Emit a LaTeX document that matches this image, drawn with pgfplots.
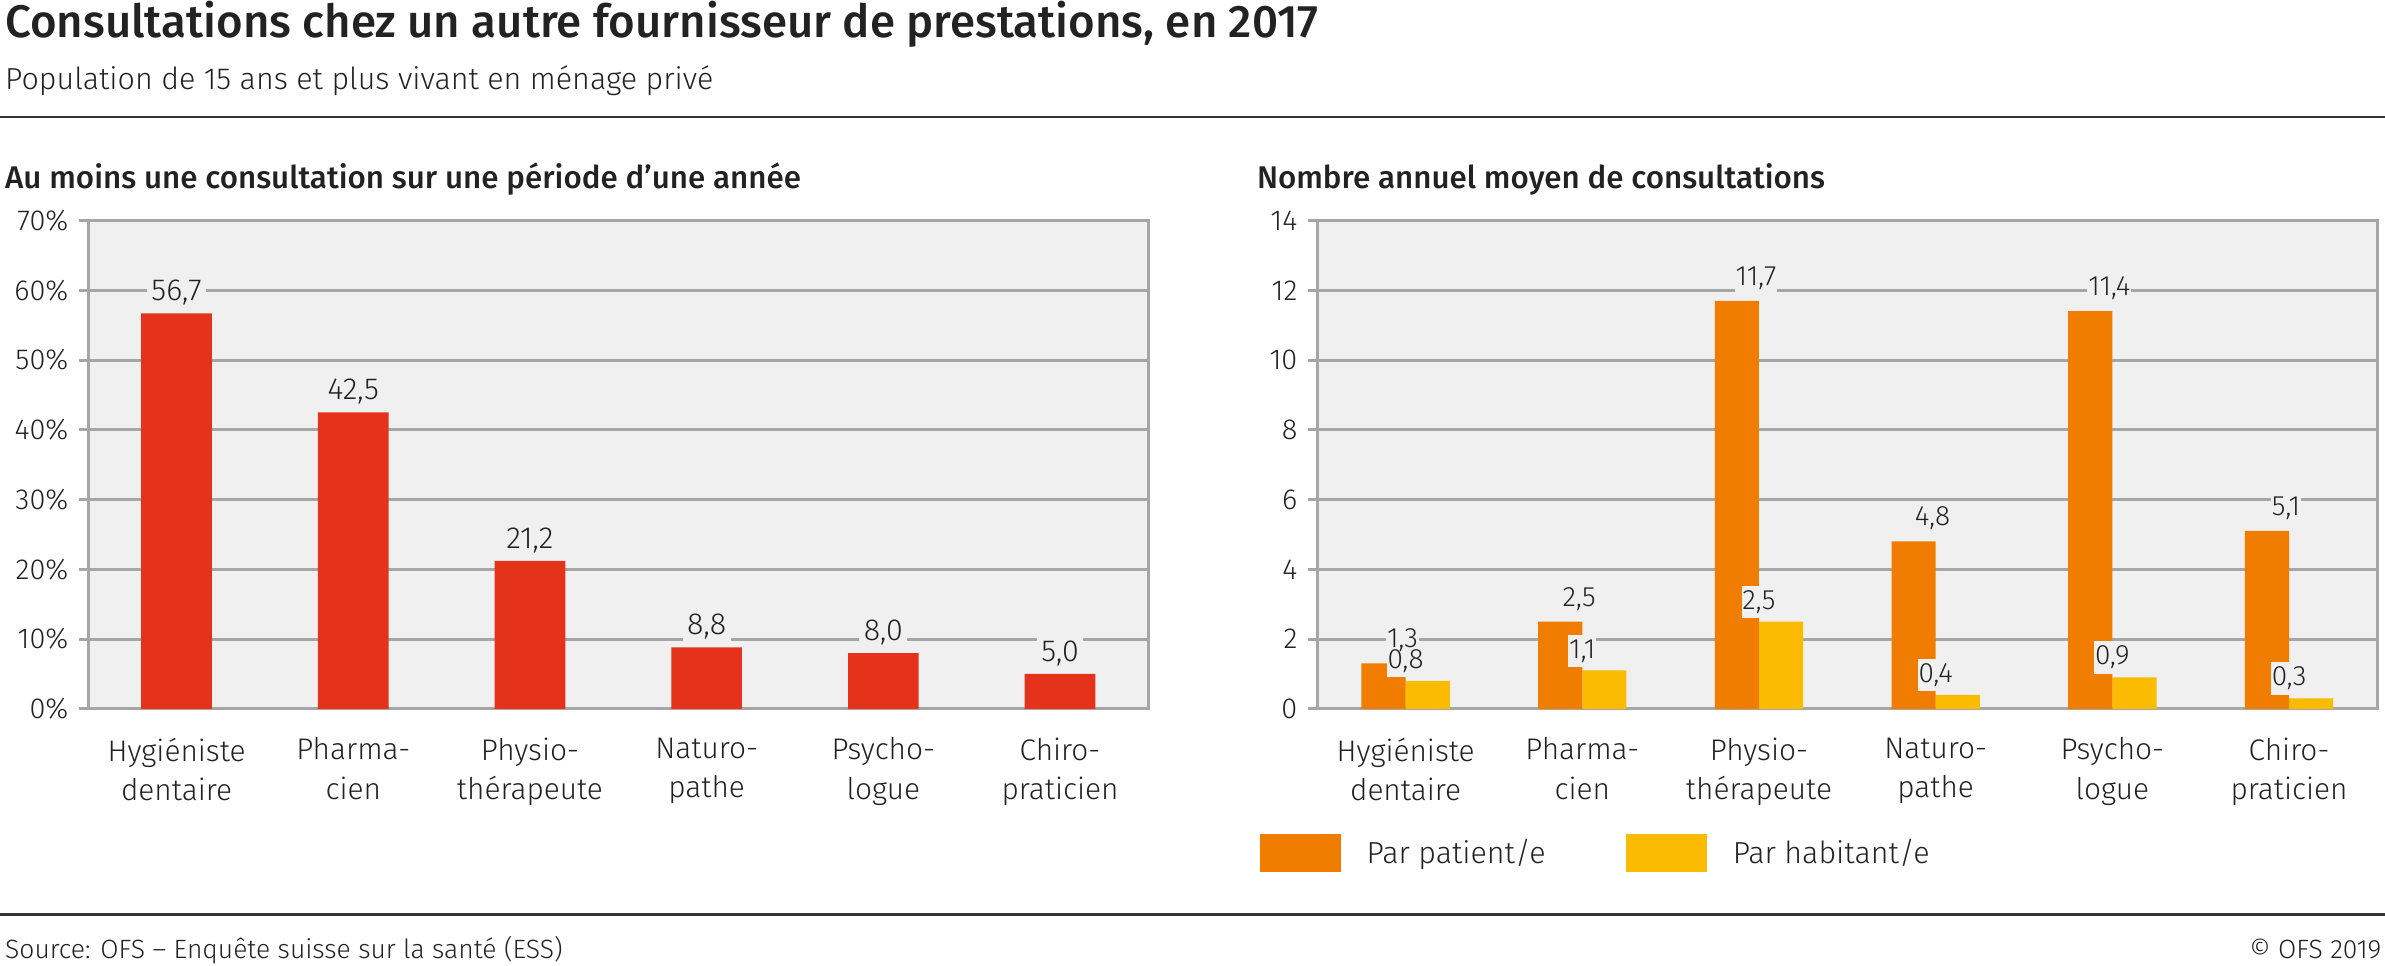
\documentclass[border=0pt]{standalone}
\usepackage{fontspec}
\setmainfont{Fira Sans Light}[BoldFont={Fira Sans Medium}]
\usepackage{pgfplots}
\usepackage{pgfplotstable}
\pgfplotsset{compat=1.18}

\definecolor{txt}{HTML}{222222}
\definecolor{rule}{HTML}{333333}
\definecolor{bgplot}{HTML}{F0F0F0}
\definecolor{gridc}{HTML}{A6A6A6}
\definecolor{rouge}{HTML}{E5321A}
\definecolor{orangef}{HTML}{F07D00}
\definecolor{jaune}{HTML}{FBBB00}

% au moins une consultation sur une annee (%)
\pgfplotstableread{
x  part
0  56.7
1  42.5
2  21.2
3  8.8
4  8.0
5  5.0
}\partdata

% nombre annuel moyen de consultations
\pgfplotstableread{
x  patient  habitant
0  1.3      0.8
1  2.5      1.1
2  11.7     2.5
3  4.8      0.4
4  11.4     0.9
5  5.1      0.3
}\nombredata

\pgfplotsset{
  ofs/.style={
    scale only axis, width=348.5pt, height=160.5pt,
    xmin=-0.5, xmax=5.5, ymin=0,
    xtick={0,...,5},
    xticklabels={{Hygiéniste\\dentaire},{Pharma-\\cien},{Physio-\\thérapeute},{Naturo-\\pathe},{Psycho-\\logue},{Chiro-\\praticien}},
    xticklabel style={align=center, text=txt, font=\fontsize{9.8}{13}\selectfont, yshift=-3pt},
    yticklabel style={text=txt, font=\fontsize{9.5}{11}\selectfont},
    /pgf/number format/assume math mode=true,
    axis background/.style={fill=bgplot},
    axis line style={gridc, line width=1pt},
    ymajorgrids, grid style={gridc, line width=1pt},
    major x tick style={draw=none},
    ytick pos=left, tick align=outside, major tick length=3pt,
    major y tick style={gridc, line width=1pt},
    every node near coord/.append style={text=txt, inner sep=1.5pt, yshift=1pt,
      font=\fontsize{10}{12}\selectfont,
      /pgf/number format/fixed, /pgf/number format/fixed zerofill,
      /pgf/number format/precision=1, /pgf/number format/use comma,
      /pgf/number format/assume math mode=true},
  },
  % empty label box that only breaks the grid lines
  gap/.style={nodes near coords={\phantom{\pgfmathprintnumber{\pgfplotspointmeta}}},
    every node near coord/.append style={fill=bgplot, inner xsep=0.3pt, font=\fontsize{9.2}{11}\selectfont}},
  % label text alone, drawn last
  label only/.style={nodes near coords, fill=none, draw=none, forget plot,
    every node near coord/.append style={inner sep=0.5pt, yshift=1pt, font=\fontsize{9.2}{11}\selectfont}},
  left label/.style={every node near coord/.append style={xshift=-1pt}},
  ofs legend/.style={legend image code/.code={\fill[##1] (0pt,-6.25pt) rectangle (26.5pt,6.25pt);}},
}

\begin{document}
\begin{tikzpicture}
\useasboundingbox (0,0) rectangle (784pt,-317.5pt);

\node[anchor=base west, inner sep=0, text=txt, font=\fontsize{15}{17}\selectfont\bfseries] at (1.5pt,-12.3pt)
  {Consultations chez un autre fournisseur de prestations, en 2017};
\node[anchor=base west, inner sep=0, text=txt, font=\fontsize{10}{12}\selectfont] at (1.5pt,-29.5pt)
  {Population de 15 ans et plus vivant en ménage privé};
\draw[rule, line width=0.9pt] (0,-38.5pt) -- (784pt,-38.5pt);

\node[anchor=base west, inner sep=0, text=txt, font=\fontsize{10.3}{12}\selectfont\bfseries] at (1.5pt,-62pt)
  {Au moins une consultation sur une période d'une année};
\node[anchor=base west, inner sep=0, text=txt, font=\fontsize{10.3}{12}\selectfont\bfseries] at (413pt,-62pt)
  {Nombre annuel moyen de consultations};

% Gauche
\begin{axis}[ofs, at={(29pt,-233pt)}, anchor=south west,
  ymax=70, ytick={0,10,...,70},
  yticklabel={\pgfmathprintnumber{\tick}\%}]
\addplot[ybar, bar width=0.4, fill=rouge, draw=none, nodes near coords,
  every node near coord/.append style={fill=bgplot}] table[x=x, y=part] {\partdata};
\end{axis}

% Droite
\begin{axis}[ofs, at={(433pt,-233pt)}, anchor=south west,
  ymax=14, ytick={0,2,...,14},
  legend columns=2, reverse legend,
  legend style={at={(-0.063,-0.296)}, anchor=west, draw=none, fill=none,
    font=\fontsize{10}{12}\selectfont, text=txt,
    /tikz/every odd column/.append style={column sep=6.5pt},
    /tikz/every even column/.append style={column sep=24.5pt}}]
\addplot[ybar, bar width=0.25, bar shift=0.125, fill=jaune, draw=none, ofs legend, gap]
  table[x=x, y=habitant] {\nombredata};
\addplot[ybar, bar width=0.25, bar shift=-0.125, fill=orangef, draw=none, ofs legend, gap, left label,
  every node near coord/.append style={yshift=1pt}]
  table[x=x, y=patient] {\nombredata};
\addplot[ybar, bar width=0.25, bar shift=0.125, label only] table[x=x, y=habitant] {\nombredata};
\addplot[ybar, bar width=0.25, bar shift=-0.125, label only, left label,
  every node near coord/.append style={yshift=1pt}] table[x=x, y=patient] {\nombredata};
\legend{Par habitant/e, Par patient/e}
\end{axis}

\draw[rule, line width=0.9pt] (0,-300.5pt) -- (784pt,-300.5pt);
\node[anchor=base west, inner sep=0, text=txt, font=\fontsize{8.7}{10}\selectfont] at (1.5pt,-315pt)
  {Source: OFS – Enquête suisse sur la santé (ESS)};
\node[anchor=base east, inner sep=0, text=txt, font=\fontsize{8.7}{10}\selectfont] at (783pt,-315pt)
  {© OFS 2019};
\end{tikzpicture}
\end{document}
